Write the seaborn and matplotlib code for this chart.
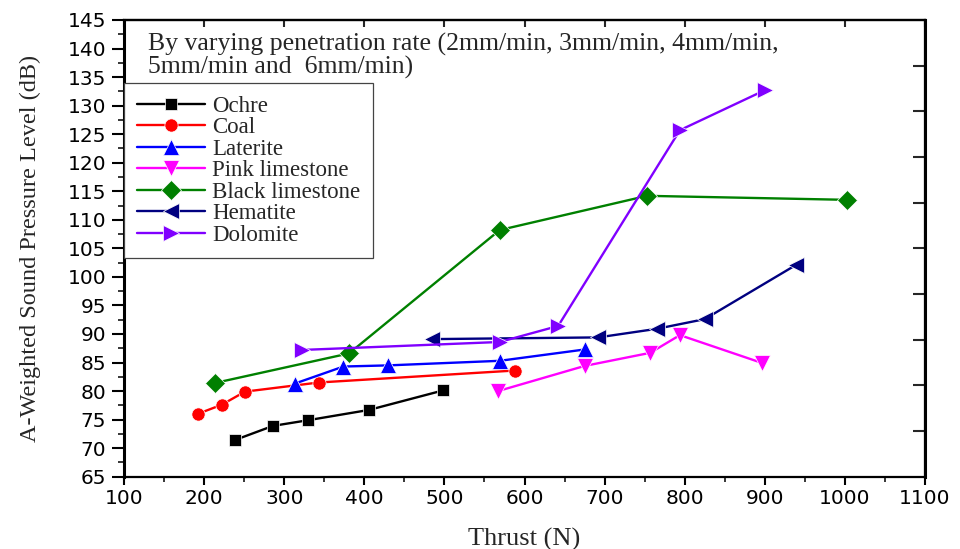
import numpy as np
import pandas as pd
import matplotlib
matplotlib.use("Agg")
import matplotlib.pyplot as plt
from matplotlib.ticker import MultipleLocator, FixedLocator
import seaborn as sns

# Thrust (N) and A-weighted SPL (dB) for each rock type
ochre_x = [238, 286, 330, 406, 498]
ochre_y = [71.4, 73.9, 74.9, 76.7, 80.1]
coal_x = [192, 222, 251, 343, 588]
coal_y = [76.0, 77.6, 79.9, 81.5, 83.6]
laterite_x = [313, 374, 430, 569, 676]
laterite_y = [81.3, 84.3, 84.5, 85.3, 87.3]
pink_x = [567, 675, 757, 794, 897]
pink_y = [80.0, 84.4, 86.7, 89.8, 84.9]
black_x = [213, 381, 569, 753, 1002]
black_y = [81.4, 86.6, 108.2, 114.2, 113.5]
hematite_x = [484, 692, 765, 825, 939]
hematite_y = [89.1, 89.4, 90.9, 92.6, 102.1]
dolomite_x = [322, 569, 642, 794, 900]
dolomite_y = [87.2, 88.6, 91.4, 125.7, 132.7]

materials = ["Ochre", "Coal", "Laterite", "Pink limestone",
             "Black limestone", "Hematite", "Dolomite"]
xs = [ochre_x, coal_x, laterite_x, pink_x, black_x, hematite_x, dolomite_x]
ys = [ochre_y, coal_y, laterite_y, pink_y, black_y, hematite_y, dolomite_y]

colors = ["#000000", "#ff0000", "#0000ff", "#ff00ff",
          "#008000", "#000080", "#8000ff"]
markers = ["s", "o", "^", "v", "D", "<", ">"]
marker_px = {"s": 9, "o": 9.5, "^": 11, "v": 11, "D": 10, "<": 11, ">": 11}

rows = []
for m, xv, yv in zip(materials, xs, ys):
    for i, (a, b) in enumerate(zip(xv, yv)):
        rows.append({"Material": m, "order": i, "Thrust": a, "SPL": b})
df = pd.DataFrame(rows)

sns.set_theme(style="ticks")
serif = ["Liberation Serif", "DejaVu Serif"]
sans = ["DejaVu Sans"]

fig = plt.figure(figsize=(9.6, 5.49), dpi=100)
ax = fig.add_axes([124 / 960, 1 - 476.7 / 549, 801 / 960, 456.7 / 549])

sns.lineplot(data=df, x="Thrust", y="SPL", hue="Material", style="Material",
             hue_order=materials, style_order=materials,
             palette=dict(zip(materials, colors)),
             markers=dict(zip(materials, markers)),
             dashes=False, sort=False, estimator=None,
             linewidth=1.7, markersize=9, markeredgewidth=0.5,
             ax=ax)
for ln in ax.lines:
    mk = ln.get_marker()
    if mk in marker_px:
        ln.set_markersize(marker_px[mk])

ax.set_xlim(100, 1100)
ax.set_ylim(65, 145)
ax.xaxis.set_major_locator(MultipleLocator(100))
ax.xaxis.set_minor_locator(MultipleLocator(50))
ax.yaxis.set_major_locator(MultipleLocator(5))
ax.yaxis.set_minor_locator(MultipleLocator(2.5))
ax.tick_params(which="major", direction="out", width=1.5,
               labelsize=14.5, colors="black")
ax.tick_params(axis="y", which="major", length=9, pad=4)
ax.tick_params(axis="x", which="major", length=6, pad=3)
ax.tick_params(axis="y", which="minor", direction="out", length=4.5, width=1.3)
ax.tick_params(axis="x", which="minor", direction="out", length=3.5, width=1.3)
for lab in ax.get_xticklabels() + ax.get_yticklabels():
    lab.set_fontfamily(sans)
for name, sp in ax.spines.items():
    sp.set_visible(True)
    sp.set_color("black")
    sp.set_linewidth(2.2 if name in ("left", "right") else 1.6)

ax.set_xlabel("Thrust (N)", fontsize=19, family=serif, labelpad=14)
ax.set_ylabel("A-Weighted Sound Pressure Level (dB)", fontsize=17.5,
              family=serif)
ax.yaxis.set_label_coords(-0.103, 0.5)

# inward ticks on the top and right frame
top = ax.secondary_xaxis("top")
top.xaxis.set_major_locator(MultipleLocator(100))
top.tick_params(direction="in", length=5, width=1.5, labeltop=False)
right = ax.secondary_yaxis("right")
right.yaxis.set_major_locator(FixedLocator(np.arange(73, 140, 8)))
right.tick_params(direction="in", length=9, width=1.5, labelright=False)
for s in (top, right):
    for sp in s.spines.values():
        sp.set_linewidth(1.6)

ax.text(0.03, 0.972,
        "By varying penetration rate (2mm/min, 3mm/min, 4mm/min,\n5mm/min and  6mm/min)",
        transform=ax.transAxes, ha="left", va="top", fontsize=18.5,
        family=serif, linespacing=1.02)

old = ax.get_legend()
handles = old.legend_handles
labels = [t.get_text() for t in old.get_texts()]
old.remove()
for h in handles:
    mk = h.get_marker()
    if mk in marker_px:
        h.set_markersize(marker_px[mk])
leg = ax.legend(handles, labels, loc="upper left", bbox_to_anchor=(0, 0.862),
                borderaxespad=0, fancybox=False, framealpha=1,
                edgecolor="#444444", handlelength=3.0, handletextpad=0.3,
                labelspacing=0.02, borderpad=0.55,
                prop={"family": serif, "size": 16.5})
leg.get_frame().set_linewidth(0.9)

fig.savefig("out.png", dpi=100)
